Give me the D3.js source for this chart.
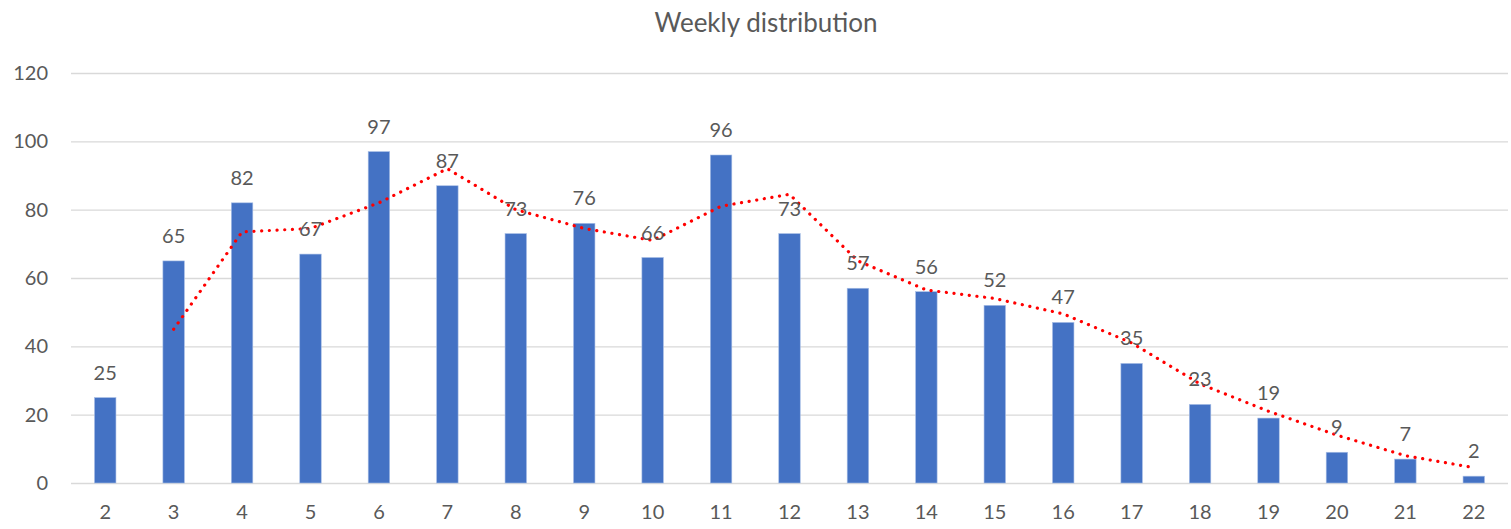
<!DOCTYPE html>
<html>
<head>
<meta charset="utf-8">
<script src="https://cdn.jsdelivr.net/npm/d3@7"></script>
<style>
  body { margin: 0; background: #fff; }
  svg text { font-family: Lato, "Open Sans", sans-serif; fill: #595959; }
</style>
</head>
<body>
<div id="chart"></div>
<script>
// Weeks on the x axis
const weeks = [2, 3, 4, 5, 6, 7, 8, 9, 10, 11, 12, 13, 14, 15, 16, 17, 18, 19, 20, 21, 22];
// Bar values
const counts = [25, 65, 82, 67, 97, 87, 73, 76, 66, 96, 73, 57, 56, 52, 47, 35, 23, 19, 9, 7, 2];
// Dotted trend line (2-period moving average), starts at week 3
const trendWeeks = [3, 4, 5, 6, 7, 8, 9, 10, 11, 12, 13, 14, 15, 16, 17, 18, 19, 20, 21, 22];
const trendValues = [45, 73.5, 74.5, 82, 92, 80, 74.5, 71, 81, 84.5, 65, 56.5, 54, 49.5, 41, 29, 21, 14, 8, 4.5];
const yTicks = [0, 20, 40, 60, 80, 100, 120];

const width = 1511, height = 529;
const margin = { top: 73, right: 3, bottom: 46, left: 71 };

const svg = d3.select("#chart").append("svg")
    .attr("width", width)
    .attr("height", height);

// Scales
const x = d3.scaleBand()
    .domain(weeks)
    .range([margin.left, width - margin.right])
    .paddingInner(0.686)
    .paddingOuter(0.343);

const xCenter = d => x(d) + x.bandwidth() / 2;

const y = d3.scaleLinear()
    .domain([0, 120])
    .range([height - margin.bottom, margin.top]);

// Title
svg.append("text")
    .attr("x", 766)
    .attr("y", 32)
    .attr("text-anchor", "middle")
    .style("font-size", "26px")
    .text("Weekly distribution");

// Gridlines + y labels
const yAxis = svg.append("g")
    .attr("transform", `translate(${margin.left},0)`)
    .call(d3.axisLeft(y).tickValues(yTicks).tickSize(-(width - margin.left - margin.right)).tickPadding(23));
yAxis.select(".domain").remove();
yAxis.selectAll("line").attr("stroke", "#d9d9d9").attr("stroke-width", 1.3);
yAxis.selectAll("text").style("font-size", "20px").attr("fill", "#595959");

// x labels
const xAxis = svg.append("g")
    .attr("transform", `translate(0,${height - margin.bottom})`)
    .call(d3.axisBottom(x).tickSize(0).tickPadding(22));
xAxis.select(".domain").remove();
xAxis.selectAll("text").style("font-size", "20px").attr("fill", "#595959");

// Bars
svg.append("g")
    .selectAll("rect")
    .data(counts)
    .join("rect")
    .attr("x", (d, i) => x(weeks[i]))
    .attr("y", d => y(d))
    .attr("width", x.bandwidth())
    .attr("height", d => y(0) - y(d))
    .attr("fill", "#4472c4")
    .attr("stroke", "#a9bfe6")
    .attr("stroke-width", 0.6);

// Trend line
const line = d3.line()
    .x((d, i) => xCenter(trendWeeks[i]))
    .y(d => y(d));

svg.append("path")
    .datum(trendValues)
    .attr("d", line)
    .attr("fill", "none")
    .attr("stroke", "#ff0000")
    .attr("stroke-width", 3.2)
    .attr("stroke-linecap", "round")
    .attr("stroke-dasharray", "0.1 7.6");

// Data labels
svg.append("g")
    .selectAll("text")
    .data(counts)
    .join("text")
    .attr("x", (d, i) => xCenter(weeks[i]))
    .attr("y", d => y(d) - 18)
    .attr("text-anchor", "middle")
    .style("font-size", "20px")
    .attr("fill", "#404040")
    .text(d => d);
</script>
</body>
</html>
